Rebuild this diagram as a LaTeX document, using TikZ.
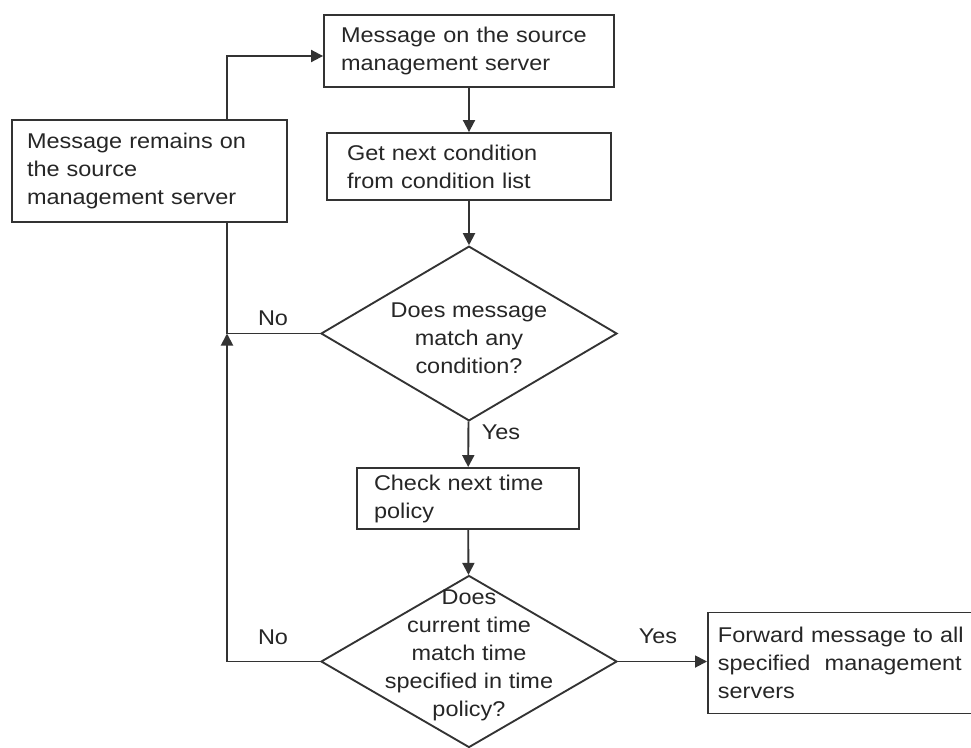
\documentclass[tikz,border=0pt]{standalone}
\usepackage{fontspec}
\setmainfont[FakeStretch=1.1]{Liberation Sans}
\usetikzlibrary{shapes.geometric,arrows.meta}
\definecolor{inkline}{HTML}{333333}
\definecolor{inktext}{HTML}{262626}
\begin{document}
\begin{tikzpicture}[x=0.75pt,y=-0.75pt,
  every node/.style={font=\fontsize{16}{21}\selectfont, text=inktext},
  procbox/.style={draw=inkline, line width=1.4pt, rectangle, align=left, inner ysep=0pt},
  decision/.style={draw=inkline, line width=1.4pt, diamond, inner sep=0pt, minimum width=222pt},
  flow/.style={draw=inkline, line width=1.4pt},
  arr/.style={flow, -{Triangle[length=9pt,width=9pt]}},
  tag/.style={inner sep=0pt}]
\fill[white] (0,0) rectangle (971,747);
\useasboundingbox (0,0) rectangle (971,747);

% process boxes
\node[procbox, inner xsep=12.75pt, text width=192pt, minimum height=54pt]
  (b1) at (469,51) {Message on the source\\management server};
\node[procbox, inner xsep=15pt, text width=183pt, minimum height=50.25pt]
  (b2) at (469,166.5) {Get next condition\\from condition list};
\node[procbox, inner xsep=11.25pt, text width=183.75pt, minimum height=76.5pt]
  (bl) at (149.5,171) {Message remains on\\the source\\management server};
\node[procbox, inner xsep=12.75pt, text width=141pt, minimum height=45.75pt]
  (b3) at (468,498.5) {Check next time\\policy};
\node[procbox, anchor=west, inner xsep=7.5pt, text width=200pt, minimum height=75.75pt]
  (bf) at (707,663) {Forward message to all\\specified\ \ management\\servers};

% decisions
\node[decision, minimum height=131pt] (d1) at (469,333.5) {};
\node[align=center, inner sep=0pt] (d1t) at (469,338) {Does message\\match any\\condition?};
\node[decision, minimum height=129pt] (d2) at (469,661.5) {};
\node[align=center, inner sep=0pt] (d2t) at (469,655) {Does\\current time\\match time\\specified in time\\policy?};

% column of the return loop
\coordinate (lx) at (227,0);

% main flow
\draw[arr] (b1) -- (b2);
\draw[arr] (b2) -- (d1);
\draw[arr] (d1) -- (b3);
\draw[arr] (b3) -- (d2);
\draw[arr] (d2.east) -- (bf.west |- d2.east);

% return loop
\draw[flow] (d1.west) -- (d1.west -| lx);
\draw[arr] (d2.west) -| (d1.west -| lx);
\draw[flow] (d1.west -| lx) -- (bl.south -| lx);
\draw[arr] (bl.north -| lx) |- ([yshift=-3.75pt]b1.west);

% branch labels
\node[tag] (no1) at (273,318) {No};
\node[tag] (yes1) at (501,432) {Yes};
\node[tag] (no2) at (273,637) {No};
\node[tag] (yes2) at (658,636) {Yes};
\end{tikzpicture}
\end{document}
